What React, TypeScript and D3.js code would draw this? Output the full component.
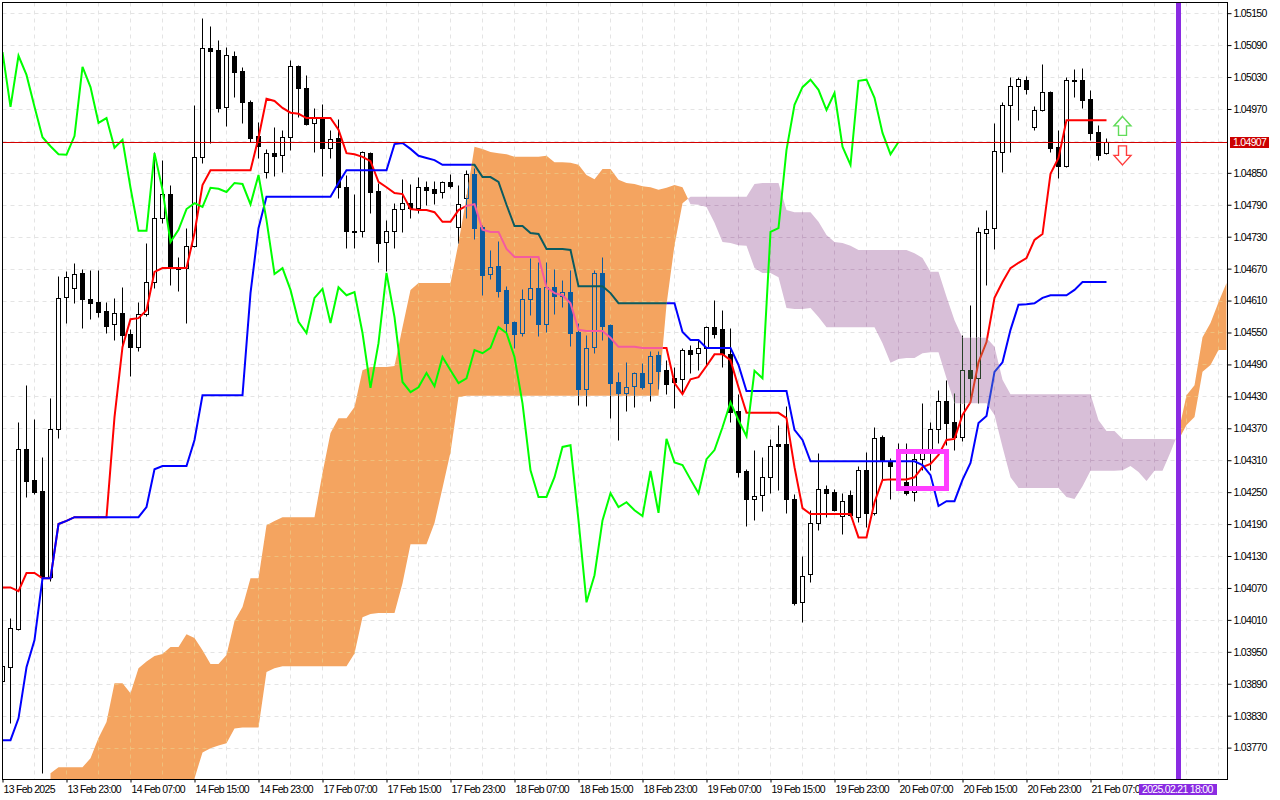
import React, { useRef, useEffect } from "react";
import * as d3 from "d3";

// H1 bars, EURUSD-style Ichimoku chart
const openPrices = [
  1.03895,1.03921,1.03992,1.04331,1.04273,1.04252,1.04090,1.04368,1.04617,1.04634,
  1.04662,1.04613,1.04607,1.04590,1.04566,1.04587,1.04547,1.04523,1.04585,1.04645,
  1.04765,1.04810,1.04673,1.04671,1.04713,1.04880,1.05085,1.05081,1.04974,1.05070,
  1.05042,1.04983,1.04919,1.04852,1.04887,1.04884,1.04917,1.05051,1.05010,1.04944,
  1.04953,1.04897,1.04916,1.04823,1.04741,1.04741,1.04887,1.04816,1.04720,1.04741,
  1.04782,1.04793,1.04784,1.04823,1.04820,1.04814,1.04833,1.04748,1.04803,1.04848,
  1.04748,1.04660,1.04675,1.04630,1.04570,1.04549,1.04613,1.04634,1.04566,1.04635,
  1.04619,1.04626,1.04551,1.04444,1.04523,1.04662,1.04564,1.04457,1.04436,1.04449,
  1.04474,1.04455,1.04508,1.04479,1.04464,1.04462,1.04517,1.04511,1.04521,1.04560,
  1.04556,1.04509,1.04402,1.04290,1.04237,1.04244,1.04278,1.04340,1.04340,1.04237,
  1.04043,1.04096,1.04192,1.04256,1.04250,1.04205,1.04244,1.04203,1.04291,1.04211,
  1.04353,1.04306,1.04305,1.04269,1.04250,1.04312,1.04323,1.04368,1.04421,1.04382,
  1.04353,1.04479,1.04464,1.04737,1.04746,1.04889,1.04978,1.05013,1.05025,1.04936,
  1.04968,1.05002,1.04899,1.04863,1.05025,1.05025,1.04989,1.04927,1.04887,
];
const highPrices = [
  1.03934,1.04013,1.04382,1.04451,1.04387,1.04316,1.04427,1.04656,1.04666,1.04681,
  1.04669,1.04667,1.04667,1.04607,1.04615,1.04635,1.04556,1.04607,1.04718,1.04889,
  1.04874,1.04827,1.04692,1.04746,1.04978,1.05141,1.05126,1.05100,1.05087,1.05079,
  1.05049,1.04987,1.04946,1.04895,1.04936,1.04931,1.05062,1.05053,1.05034,1.04972,
  1.04979,1.04931,1.04951,1.04846,1.04810,1.04891,1.04889,1.04831,1.04761,1.04793,
  1.04838,1.04829,1.04842,1.04835,1.04835,1.04835,1.04848,1.04827,1.04855,1.04859,
  1.04752,1.04705,1.04722,1.04637,1.04572,1.04632,1.04690,1.04682,1.04682,1.04669,
  1.04649,1.04667,1.04568,1.04545,1.04667,1.04692,1.04566,1.04476,1.04494,1.04476,
  1.04493,1.04515,1.04515,1.04498,1.04485,1.04521,1.04526,1.04536,1.04562,1.04611,
  1.04592,1.04558,1.04434,1.04293,1.04329,1.04316,1.04350,1.04376,1.04412,1.04246,
  1.04130,1.04216,1.04323,1.04263,1.04256,1.04248,1.04254,1.04299,1.04325,1.04372,
  1.04357,1.04314,1.04342,1.04342,1.04329,1.04417,1.04382,1.04442,1.04461,1.04436,
  1.04545,1.04602,1.04748,1.04780,1.04944,1.04983,1.05030,1.05030,1.05032,1.04976,
  1.05055,1.05004,1.04931,1.05030,1.05045,1.05047,1.05006,1.04940,1.04916,
];
const lowPrices = [
  1.03878,1.03816,1.03991,1.04241,1.04246,1.03722,1.04083,1.04352,1.04568,1.04605,
  1.04558,1.04575,1.04579,1.04549,1.04536,1.04526,1.04468,1.04515,1.04581,1.04634,
  1.04756,1.04639,1.04628,1.04568,1.04711,1.04869,1.04906,1.04964,1.04938,1.04993,
  1.04944,1.04908,1.04878,1.04840,1.04844,1.04852,1.04893,1.04955,1.04940,1.04889,
  1.04844,1.04878,1.04803,1.04709,1.04709,1.04729,1.04775,1.04682,1.04666,1.04709,
  1.04739,1.04765,1.04775,1.04790,1.04791,1.04803,1.04822,1.04718,1.04765,1.04726,
  1.04620,1.04650,1.04617,1.04551,1.04521,1.04543,1.04583,1.04543,1.04551,1.04585,
  1.04598,1.04525,1.04414,1.04412,1.04511,1.04536,1.04389,1.04348,1.04402,1.04410,
  1.04444,1.04421,1.04444,1.04434,1.04408,1.04436,1.04474,1.04479,1.04489,1.04540,
  1.04485,1.04382,1.04278,1.04186,1.04197,1.04214,1.04248,1.04254,1.04211,1.04038,
  1.04006,1.04081,1.04179,1.04203,1.04214,1.04171,1.04205,1.04194,1.04184,1.04207,
  1.04273,1.04237,1.04291,1.04244,1.04233,1.04291,1.04291,1.04342,1.04338,1.04329,
  1.04346,1.04419,1.04417,1.04639,1.04707,1.04852,1.04889,1.04949,1.04998,1.04931,
  1.04966,1.04889,1.04840,1.04861,1.04993,1.04972,1.04912,1.04874,1.04885,
];
const closePrices = [
  1.03923,1.03994,1.04331,1.04271,1.04250,1.04090,1.04368,1.04615,1.04654,1.04660,
  1.04613,1.04605,1.04588,1.04562,1.04587,1.04545,1.04523,1.04585,1.04645,1.04765,
  1.04810,1.04671,1.04669,1.04713,1.04880,1.05085,1.05079,1.04972,1.05072,1.05040,
  1.04983,1.04916,1.04900,1.04887,1.04882,1.04917,1.05051,1.05010,1.04942,1.04953,
  1.04897,1.04914,1.04823,1.04741,1.04739,1.04889,1.04814,1.04718,1.04741,1.04782,
  1.04793,1.04784,1.04823,1.04818,1.04812,1.04833,1.04825,1.04791,1.04848,1.04746,
  1.04658,1.04673,1.04628,1.04568,1.04547,1.04613,1.04634,1.04566,1.04635,1.04619,
  1.04626,1.04549,1.04444,1.04521,1.04662,1.04562,1.04455,1.04436,1.04447,1.04474,
  1.04447,1.04506,1.04478,1.04453,1.04457,1.04517,1.04509,1.04521,1.04560,1.04547,
  1.04509,1.04400,1.04288,1.04237,1.04242,1.04278,1.04336,1.04336,1.04237,1.04041,
  1.04092,1.04192,1.04256,1.04248,1.04216,1.04233,1.04207,1.04291,1.04211,1.04352,
  1.04308,1.04299,1.04310,1.04248,1.04312,1.04323,1.04368,1.04421,1.04380,1.04353,
  1.04479,1.04464,1.04739,1.04744,1.04891,1.04978,1.05013,1.05026,1.05008,1.04968,
  1.05002,1.04897,1.04863,1.05025,1.05023,1.04987,1.04925,1.04884,1.04907,
];

const tenkan = [
  1.04071,1.04071,1.04064,1.04098,1.04098,1.04088,1.04088,1.04190,1.04196,1.04203,
  1.04203,1.04203,1.04203,1.04203,1.04391,1.04523,1.04575,1.04577,1.04592,1.04664,
  1.04671,1.04671,1.04671,1.04671,1.04737,1.04827,1.04855,1.04855,1.04855,1.04855,
  1.04855,1.04855,1.04916,1.04989,1.04985,1.04972,1.04963,1.04961,1.04953,1.04953,
  1.04953,1.04953,1.04931,1.04887,1.04885,1.04880,1.04872,1.04833,1.04823,1.04812,
  1.04810,1.04782,1.04780,1.04780,1.04776,1.04758,1.04758,1.04780,1.04788,1.04791,
  1.04743,1.04739,1.04739,1.04707,1.04692,1.04692,1.04692,1.04692,1.04635,1.04624,
  1.04620,1.04605,1.04555,1.04553,1.04553,1.04553,1.04540,1.04523,1.04523,1.04523,
  1.04521,1.04521,1.04521,1.04521,1.04455,1.04434,1.04462,1.04466,1.04487,1.04509,
  1.04509,1.04498,1.04447,1.04399,1.04399,1.04399,1.04399,1.04399,1.04389,1.04297,
  1.04220,1.04209,1.04209,1.04209,1.04209,1.04209,1.04209,1.04165,1.04165,1.04231,
  1.04273,1.04274,1.04274,1.04274,1.04278,1.04297,1.04303,1.04320,1.04348,1.04350,
  1.04395,1.04419,1.04494,1.04532,1.04615,1.04645,1.04671,1.04681,1.04690,1.04724,
  1.04735,1.04848,1.04878,1.04949,1.04949,1.04949,1.04949,1.04949,1.04949,
];
const kijun = [
  1.03784,1.03784,1.03825,1.03921,1.03972,1.04088,1.04088,1.04190,1.04196,1.04203,
  1.04203,1.04203,1.04203,1.04203,1.04203,1.04203,1.04203,1.04203,1.04222,1.04293,
  1.04299,1.04299,1.04299,1.04299,1.04348,1.04432,1.04432,1.04432,1.04432,1.04432,
  1.04432,1.04624,1.04746,1.04805,1.04805,1.04805,1.04805,1.04805,1.04805,1.04805,
  1.04805,1.04805,1.04831,1.04855,1.04855,1.04855,1.04855,1.04855,1.04855,1.04904,
  1.04906,1.04895,1.04882,1.04878,1.04874,1.04865,1.04865,1.04865,1.04865,1.04865,
  1.04842,1.04842,1.04833,1.04790,1.04750,1.04750,1.04737,1.04735,1.04707,1.04707,
  1.04707,1.04705,1.04637,1.04637,1.04637,1.04637,1.04624,1.04605,1.04605,1.04605,
  1.04605,1.04605,1.04605,1.04605,1.04605,1.04551,1.04536,1.04536,1.04521,1.04521,
  1.04521,1.04521,1.04489,1.04440,1.04440,1.04440,1.04440,1.04440,1.04440,1.04367,
  1.04348,1.04308,1.04308,1.04308,1.04308,1.04308,1.04308,1.04308,1.04308,1.04308,
  1.04308,1.04308,1.04308,1.04308,1.04308,1.04301,1.04282,1.04224,1.04233,1.04233,
  1.04273,1.04305,1.04380,1.04393,1.04476,1.04494,1.04555,1.04602,1.04603,1.04605,
  1.04615,1.04620,1.04620,1.04620,1.04630,1.04645,1.04645,1.04645,1.04645,
];
const chikou = [
  1.05077,1.04974,1.05070,1.05034,1.04974,1.04917,1.04900,1.04885,1.04884,1.04919,
  1.05049,1.05011,1.04944,1.04953,1.04897,1.04912,1.04822,1.04741,1.04741,1.04887,
  1.04818,1.04720,1.04743,1.04782,1.04793,1.04786,1.04822,1.04820,1.04814,1.04831,
  1.04829,1.04791,1.04846,1.04761,1.04660,1.04671,1.04630,1.04570,1.04549,1.04615,
  1.04632,1.04568,1.04635,1.04620,1.04626,1.04549,1.04446,1.04530,1.04662,1.04579,
  1.04457,1.04438,1.04447,1.04474,1.04449,1.04504,1.04479,1.04455,1.04464,1.04517,
  1.04511,1.04521,1.04560,1.04549,1.04504,1.04417,1.04291,1.04241,1.04241,1.04278,
  1.04335,1.04338,1.04197,1.04043,1.04094,1.04197,1.04248,1.04222,1.04231,1.04216,
  1.04205,1.04290,1.04211,1.04350,1.04306,1.04301,1.04274,1.04248,1.04312,1.04329,
  1.04372,1.04419,1.04385,1.04355,1.04478,1.04464,1.04739,1.04746,1.04893,1.04978,
  1.05011,1.05025,1.05006,1.04968,1.05000,1.04899,1.04865,1.05023,1.05025,1.04991,
  1.04925,1.04885,1.04908,
];

// cloud starts at bar 6 and runs 26 bars past the last candle
const cloudFirstBar = 6;
const spanA = [
  1.03722,1.03733,1.03733,1.03733,1.03733,1.03750,1.03788,1.03818,1.03891,1.03891,
  1.03872,1.03919,1.03932,1.03942,1.03946,1.03959,1.03959,1.03983,1.03976,1.03953,
  1.03927,1.03927,1.03944,1.04008,1.04034,1.04088,1.04088,1.04188,1.04196,1.04203,
  1.04203,1.04203,1.04203,1.04203,1.04286,1.04361,1.04389,1.04389,1.04410,1.04479,
  1.04485,1.04485,1.04485,1.04487,1.04560,1.04630,1.04643,1.04643,1.04643,1.04643,
  1.04643,1.04718,1.04805,1.04899,1.04895,1.04889,1.04887,1.04885,1.04880,1.04880,
  1.04880,1.04880,1.04882,1.04870,1.04870,1.04869,1.04865,1.04846,1.04838,1.04857,
  1.04857,1.04837,1.04831,1.04829,1.04825,1.04823,1.04818,1.04822,1.04827,1.04823,
  1.04791,1.04790,1.04786,1.04756,1.04720,1.04718,1.04714,1.04713,1.04671,1.04662,
  1.04662,1.04654,1.04596,1.04594,1.04594,1.04596,1.04579,1.04560,1.04560,1.04560,
  1.04560,1.04560,1.04560,1.04560,1.04530,1.04493,1.04500,1.04502,1.04502,1.04511,
  1.04513,1.04513,1.04464,1.04417,1.04417,1.04417,1.04417,1.04417,1.04395,1.04335,
  1.04278,1.04258,1.04258,1.04258,1.04258,1.04258,1.04258,1.04241,1.04237,1.04261,
  1.04290,1.04290,1.04290,1.04290,1.04291,1.04299,1.04288,1.04271,1.04290,1.04290,
  1.04325,1.04363,1.04432,1.04451,1.04541,1.04568,1.04607,1.04643,
];
const spanB = [
  1.03699,1.03699,1.03699,1.03699,1.03699,1.03699,1.03699,1.03699,1.03699,1.03699,
  1.03699,1.03699,1.03699,1.03699,1.03699,1.03699,1.03699,1.03699,1.03712,1.03761,
  1.03769,1.03774,1.03778,1.03806,1.03808,1.03808,1.03808,1.03912,1.03919,1.03923,
  1.03923,1.03923,1.03923,1.03923,1.03923,1.03923,1.03923,1.03923,1.03947,1.04015,
  1.04021,1.04023,1.04023,1.04023,1.04079,1.04152,1.04152,1.04152,1.04192,1.04258,
  1.04325,1.04429,1.04431,1.04431,1.04431,1.04431,1.04431,1.04431,1.04431,1.04431,
  1.04431,1.04431,1.04431,1.04431,1.04431,1.04431,1.04431,1.04431,1.04431,1.04431,
  1.04431,1.04431,1.04431,1.04431,1.04431,1.04431,1.04431,1.04602,1.04714,1.04793,
  1.04805,1.04805,1.04805,1.04805,1.04805,1.04805,1.04805,1.04805,1.04829,1.04831,
  1.04831,1.04831,1.04780,1.04776,1.04776,1.04776,1.04758,1.04733,1.04720,1.04718,
  1.04713,1.04705,1.04705,1.04705,1.04705,1.04705,1.04705,1.04705,1.04699,1.04690,
  1.04664,1.04664,1.04617,1.04573,1.04540,1.04540,1.04540,1.04540,1.04523,1.04461,
  1.04434,1.04434,1.04434,1.04434,1.04434,1.04434,1.04434,1.04434,1.04434,1.04434,
  1.04434,1.04385,1.04365,1.04365,1.04350,1.04350,1.04350,1.04350,1.04350,1.04350,
  1.04350,1.04348,1.04376,1.04391,1.04476,1.04489,1.04517,1.04517,
];

const priceTicks = [
  1.0515,1.0509,1.0503,1.0497,1.0485,1.0479,1.0473,1.0467,1.0461,1.0455,1.0449,1.0443,
  1.0437,1.0431,1.0425,1.0419,1.0413,1.0407,1.0401,1.0395,1.0389,1.0383,1.0377,
];
const gridPrices = [...priceTicks, 1.0491];
const timeLabels = [
  "13 Feb 2025","13 Feb 23:00","14 Feb 07:00","14 Feb 15:00","14 Feb 23:00","17 Feb 07:00",
  "17 Feb 15:00","17 Feb 23:00","18 Feb 07:00","18 Feb 15:00","18 Feb 23:00","19 Feb 07:00",
  "19 Feb 15:00","19 Feb 23:00","20 Feb 07:00","20 Feb 15:00","20 Feb 23:00","21 Feb 07:00",
];
const timeLabelBars = timeLabels.map((_, i) => i * 8);
const gridBars = d3.range(4, 154, 4);

const lastPrice = 1.04907;
const markerBar = 147;
const markerLabel = "2025.02.21 18:00";
const boxBars = [112, 118];
const boxPrices = [1.04328, 1.04257];
const arrowBar = 140;
const arrowUpTip = 1.04956;
const arrowDownTip = 1.04865;

const ORANGE = "#f4a460";
const THISTLE = "#d8bfd8";
const font = "'Liberation Sans', Arial, sans-serif";
const fontSize = 10.5;
const letterSpacing = "-0.7px";

// the terminal paints the cloud by XOR, so anything below it flips colour
const xorWith = (cloud: string) => (color: string) => {
  const a = d3.rgb(cloud);
  const b = d3.rgb(color);
  return d3
    .rgb(b.r ^ (255 - a.r), b.g ^ (255 - a.g), b.b ^ (255 - a.b))
    .formatHex();
};

const App: React.FC = () => {
  const svgRef = useRef<SVGSVGElement>(null);

  useEffect(() => {
    if (!svgRef.current) return;

    const width = 1280;
    const height = 800;
    const frame = { left: 2.5, top: 2.5, right: 1227.5, bottom: 779.5 };

    const svg = d3.select(svgRef.current).attr("width", width).attr("height", height);
    svg.selectAll("*").remove();

    const x = d3.scaleLinear().domain([0, 153]).range([2.5, 1226.5]);
    const y = d3.scaleLinear().domain([1.03711, 1.05171]).range([779, 2]);
    const crispY = (v: number) => Math.round(y(v)) + 0.5;

    const defs = svg.append("defs");
    defs
      .append("clipPath")
      .attr("id", "plot")
      .append("rect")
      .attr("x", frame.left)
      .attr("y", frame.top)
      .attr("width", frame.right - frame.left)
      .attr("height", frame.bottom - frame.top);

    // split the cloud where the two spans cross
    type CloudPoint = { bar: number; upper: number; lower: number };
    const bull: CloudPoint[][] = [];
    const bear: CloudPoint[][] = [];
    let current: CloudPoint[] = [];
    spanA.forEach((a, k) => {
      const b = spanB[k];
      const bar = cloudFirstBar + k;
      current.push({ bar, upper: Math.max(a, b), lower: Math.min(a, b) });
      if (k === spanA.length - 1) {
        (a >= b ? bull : bear).push(current);
        return;
      }
      const nextA = spanA[k + 1];
      const nextB = spanB[k + 1];
      if ((a - b) * (nextA - nextB) < 0) {
        const t = (a - b) / (a - b - (nextA - nextB));
        const p = a + (nextA - a) * t;
        const cross = { bar: bar + t, upper: p, lower: p };
        current.push(cross);
        (a >= b ? bull : bear).push(current);
        current = [cross];
      }
    });

    const cloudArea = d3
      .area<CloudPoint>()
      .x((d) => x(d.bar))
      .y0((d) => y(d.lower))
      .y1((d) => y(d.upper));
    const bullPath = bull.map((s) => cloudArea(s)).join("");
    const bearPath = bear.map((s) => cloudArea(s)).join("");

    defs
      .append("clipPath")
      .attr("id", "cloud-bull")
      .append("path")
      .attr("d", bullPath);
    defs
      .append("clipPath")
      .attr("id", "cloud-bear")
      .append("path")
      .attr("d", bearPath);

    const drawMarket = (
      parent: d3.Selection<SVGGElement, unknown, null, undefined>,
      paint: (c: string) => string
    ) => {
      // grid
      parent
        .append("g")
        .selectAll("line")
        .data(gridPrices)
        .enter()
        .append("line")
        .attr("x1", frame.left)
        .attr("x2", frame.right)
        .attr("y1", (d) => crispY(d))
        .attr("y2", (d) => crispY(d));
      parent
        .append("g")
        .selectAll("line")
        .data(gridBars)
        .enter()
        .append("line")
        .attr("x1", (d) => x(d))
        .attr("x2", (d) => x(d))
        .attr("y1", frame.top)
        .attr("y2", frame.bottom);
      parent
        .selectAll("g line")
        .attr("stroke", paint("#e4e4e4"))
        .attr("stroke-dasharray", "4 4");

      // candles
      const bars = d3.range(openPrices.length);
      parent
        .append("g")
        .selectAll("line")
        .data(bars)
        .enter()
        .append("line")
        .attr("x1", (i) => x(i))
        .attr("x2", (i) => x(i))
        .attr("y1", (i) => crispY(highPrices[i]))
        .attr("y2", (i) => crispY(lowPrices[i]))
        .attr("stroke", paint("#000000"));
      parent
        .append("g")
        .selectAll("rect")
        .data(bars)
        .enter()
        .append("rect")
        .attr("x", (i) => x(i) - 2)
        .attr("width", 4)
        .attr("y", (i) => crispY(Math.max(openPrices[i], closePrices[i])))
        .attr("height", (i) =>
          Math.max(
            1,
            crispY(Math.min(openPrices[i], closePrices[i])) -
              crispY(Math.max(openPrices[i], closePrices[i]))
          )
        )
        .attr("fill", (i) =>
          paint(closePrices[i] >= openPrices[i] ? "#ffffff" : "#000000")
        )
        .attr("stroke", paint("#000000"));

      // tenkan and kijun sit below the cloud
      const line = d3
        .line<number>()
        .x((_, i) => x(i))
        .y((d) => y(d));
      parent
        .append("path")
        .attr("d", line(tenkan))
        .attr("fill", "none")
        .attr("stroke", paint("#ff0000"))
        .attr("stroke-width", 2);
      parent
        .append("path")
        .attr("d", line(kijun))
        .attr("fill", "none")
        .attr("stroke", paint("#0000ff"))
        .attr("stroke-width", 2);
    };

    const plot = svg.append("g").attr("clip-path", "url(#plot)");
    plot
      .append("rect")
      .attr("x", 0)
      .attr("y", 0)
      .attr("width", width)
      .attr("height", height)
      .attr("fill", "#ffffff");
    drawMarket(plot.append("g"), (c) => c);

    [
      { id: "cloud-bull", color: ORANGE },
      { id: "cloud-bear", color: THISTLE },
    ].forEach(({ id, color }) => {
      const g = plot.append("g").attr("clip-path", `url(#${id})`);
      g.append("rect")
        .attr("x", 0)
        .attr("y", 0)
        .attr("width", width)
        .attr("height", height)
        .attr("fill", color);
      drawMarket(g, xorWith(color));
    });

    // chikou is drawn after the cloud
    plot
      .append("path")
      .attr(
        "d",
        d3
          .line<number>()
          .x((_, i) => x(i))
          .y((d) => y(d))(chikou)
      )
      .attr("fill", "none")
      .attr("stroke", "#00ff00")
      .attr("stroke-width", 2);

    // last price line
    plot
      .append("line")
      .attr("x1", frame.left)
      .attr("x2", frame.right)
      .attr("y1", crispY(lastPrice))
      .attr("y2", crispY(lastPrice))
      .attr("stroke", "#d40000");

    // vertical marker
    plot
      .append("line")
      .attr("x1", x(markerBar))
      .attr("x2", x(markerBar))
      .attr("y1", frame.top)
      .attr("y2", frame.bottom)
      .attr("stroke", "#8a2be2")
      .attr("stroke-width", 5);

    // signal box
    plot
      .append("rect")
      .attr("x", x(boxBars[0]))
      .attr("width", x(boxBars[1]) - x(boxBars[0]))
      .attr("y", crispY(boxPrices[0]))
      .attr("height", crispY(boxPrices[1]) - crispY(boxPrices[0]))
      .attr("fill", "none")
      .attr("stroke", "#ff3dff")
      .attr("stroke-width", 5);

    // up / down arrows next to the last candle
    const arrowX = x(arrowBar);
    const upY = y(arrowUpTip);
    const downY = y(arrowDownTip);
    plot
      .append("path")
      .attr(
        "d",
        `M${arrowX},${upY}l8.5,9.5h-4.5v9.5h-8v-9.5h-4.5z`
      )
      .attr("fill", "#ffffff")
      .attr("stroke", "#62dc5a")
      .attr("stroke-width", 1.4);
    plot
      .append("path")
      .attr(
        "d",
        `M${arrowX},${downY}l8.5,-9.5h-4.5v-9.5h-8v9.5h-4.5z`
      )
      .attr("fill", "#ffffff")
      .attr("stroke", "#ff3c3c")
      .attr("stroke-width", 1.4);

    // frame
    svg
      .append("rect")
      .attr("x", frame.left)
      .attr("y", frame.top)
      .attr("width", frame.right - frame.left)
      .attr("height", frame.bottom - frame.top)
      .attr("fill", "none")
      .attr("stroke", "#000000");

    // axes
    const priceAxis = d3
      .axisRight(y)
      .tickValues(priceTicks)
      .tickFormat((d) => d3.format(".5f")(d as number))
      .tickSize(4)
      .tickSizeOuter(0)
      .tickPadding(2);
    const gPrice = svg
      .append("g")
      .attr("transform", `translate(${frame.right},0)`)
      .call(priceAxis);
    gPrice.select(".domain").remove();

    const timeAxis = d3
      .axisBottom(x)
      .tickValues(timeLabelBars)
      .tickFormat((_, i) => timeLabels[i])
      .tickSize(3)
      .tickSizeOuter(0)
      .tickPadding(3);
    const gTime = svg
      .append("g")
      .attr("transform", `translate(0,${frame.bottom})`)
      .call(timeAxis);
    gTime.select(".domain").remove();
    gTime.selectAll("text").attr("text-anchor", "start").attr("x", 0.5);

    svg
      .selectAll("g text")
      .attr("font-family", font)
      .attr("font-size", fontSize)
      .attr("letter-spacing", letterSpacing)
      .attr("fill", "#000000");

    // last price tag
    svg
      .append("rect")
      .attr("x", 1230)
      .attr("y", crispY(lastPrice) - 5.5)
      .attr("width", 39)
      .attr("height", 11)
      .attr("fill", "#cc0000");
    svg
      .append("text")
      .attr("x", 1233)
      .attr("y", crispY(lastPrice) + 3.5)
      .attr("font-family", font)
      .attr("font-size", fontSize)
      .attr("letter-spacing", letterSpacing)
      .attr("fill", "#ffffff")
      .text(d3.format(".5f")(lastPrice));

    // vertical marker time tag
    svg
      .append("rect")
      .attr("x", 1139)
      .attr("y", 784)
      .attr("width", 78)
      .attr("height", 11)
      .attr("fill", "#8a2be2");
    svg
      .append("text")
      .attr("x", 1142)
      .attr("y", 793)
      .attr("font-family", font)
      .attr("font-size", fontSize)
      .attr("letter-spacing", letterSpacing)
      .attr("fill", "#ffffff")
      .text(markerLabel);
  }, []);

  return (
    <svg
      ref={svgRef}
      style={{ position: "absolute", left: 0, top: 0, background: "#ffffff" }}
    ></svg>
  );
};

export default App;
